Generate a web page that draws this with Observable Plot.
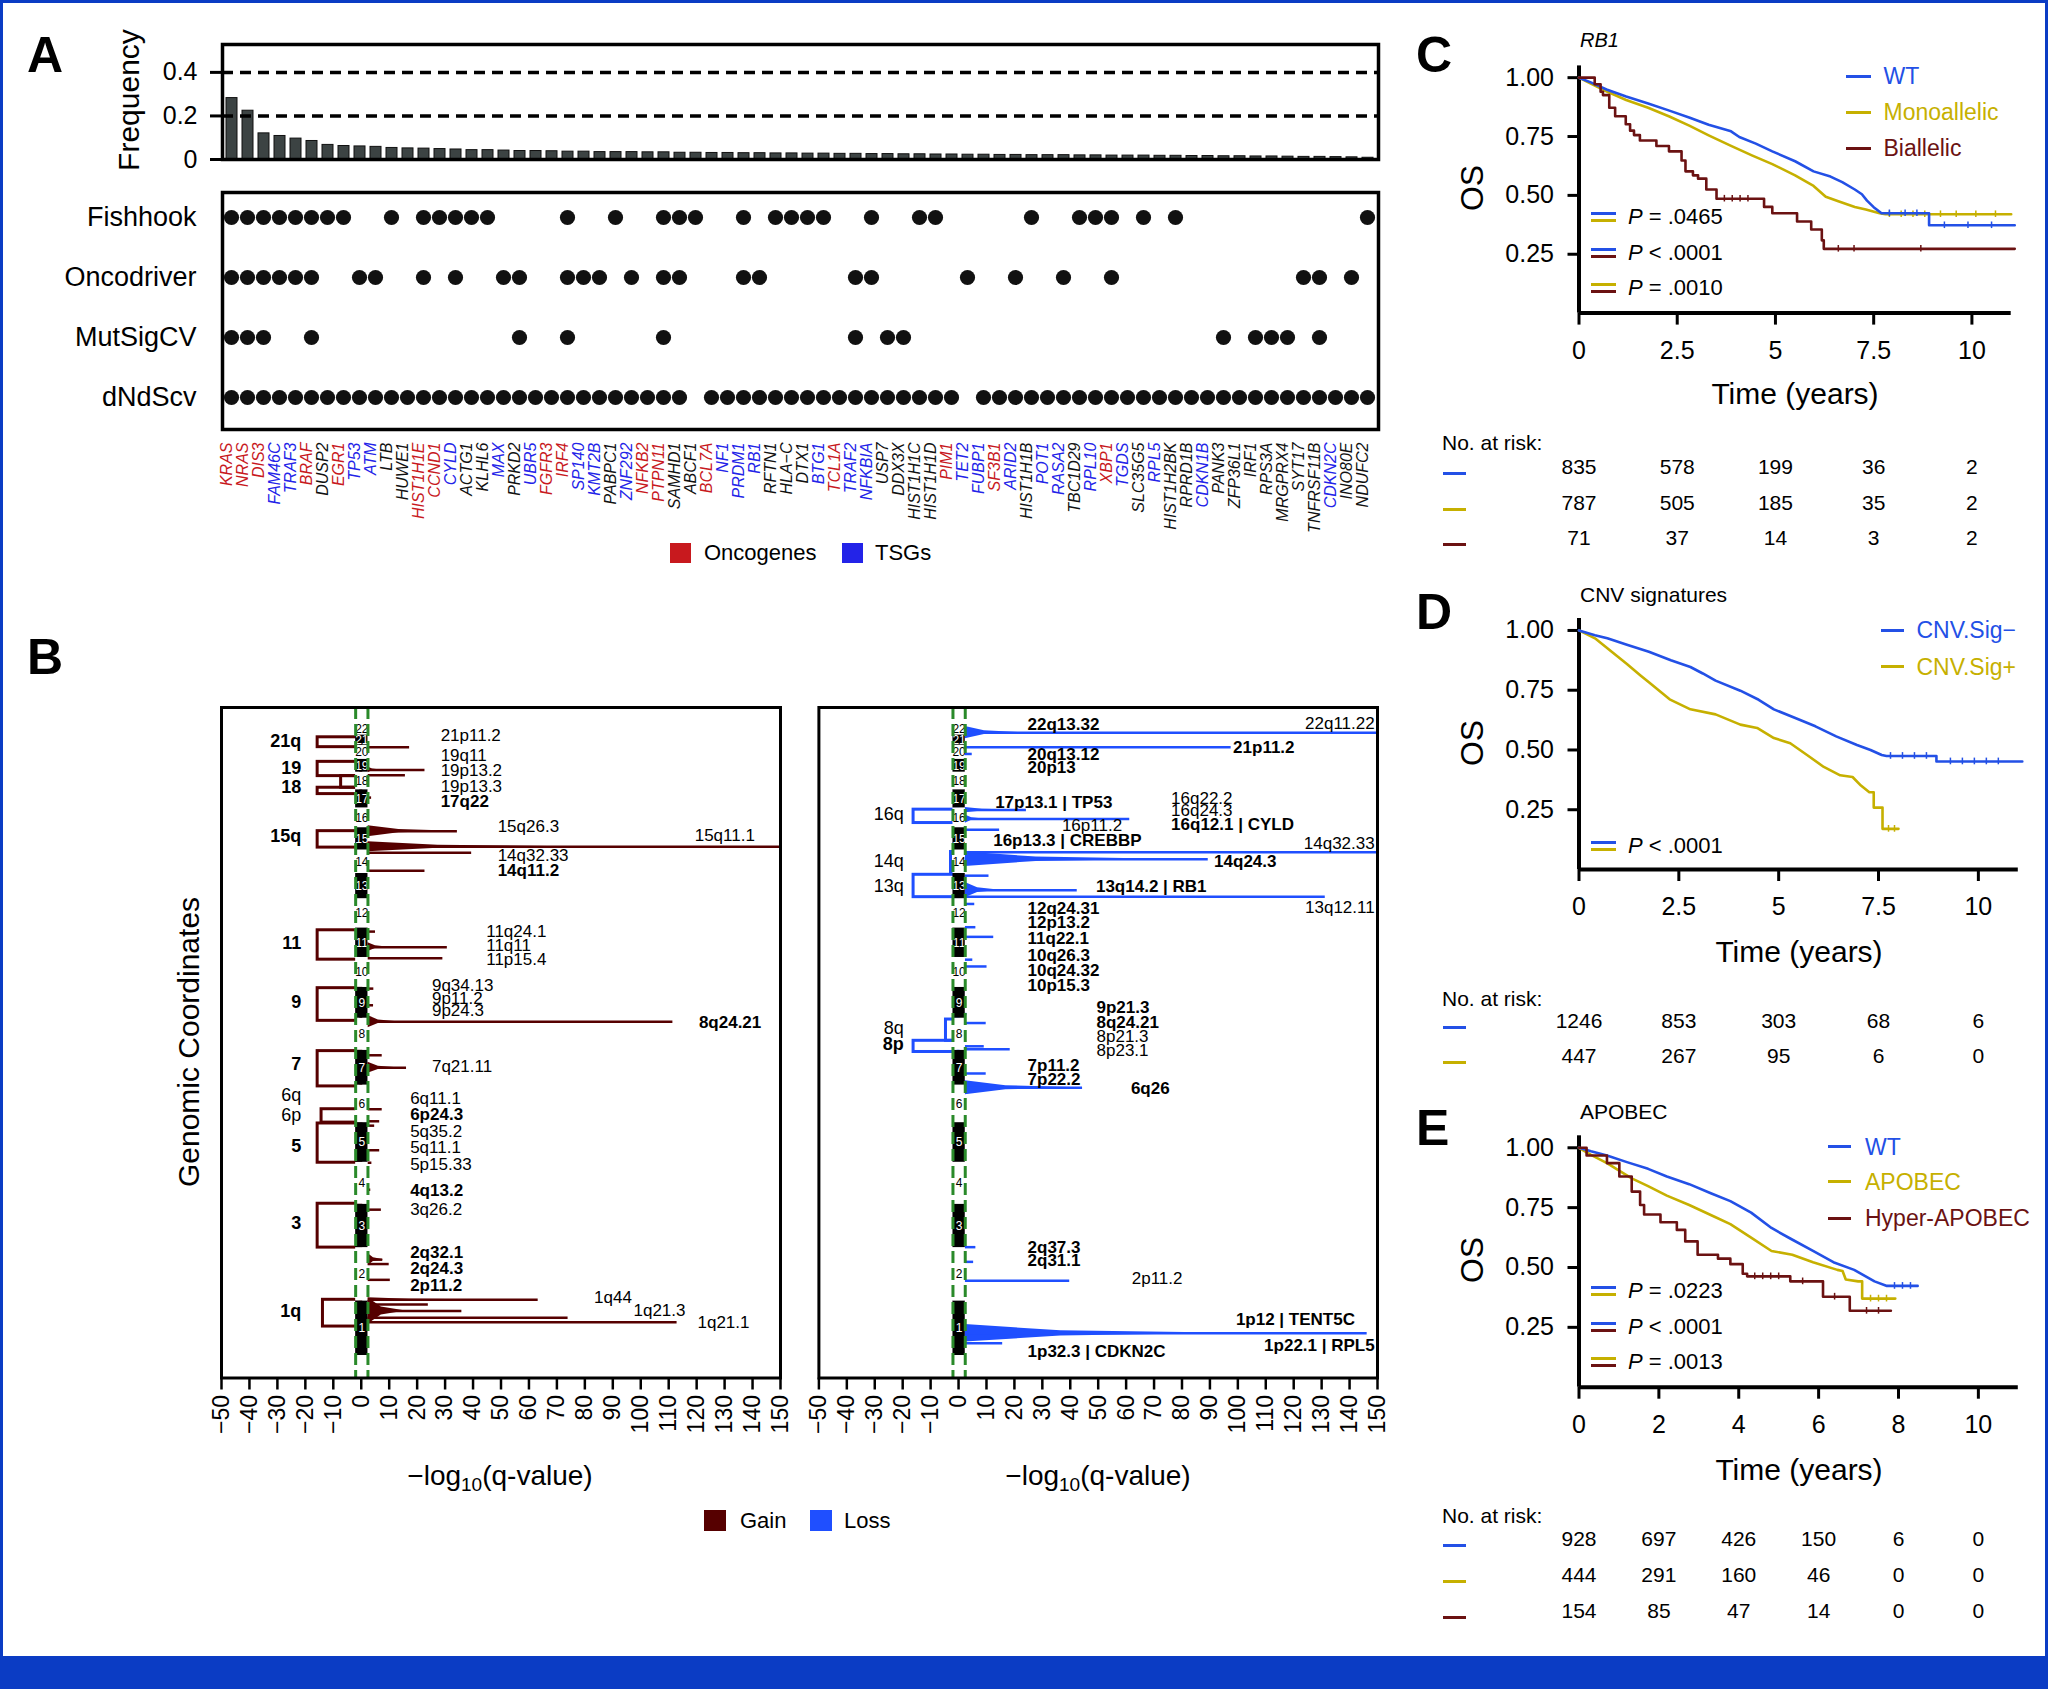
<!DOCTYPE html>
<html><head><meta charset="utf-8">
<script src="https://cdn.jsdelivr.net/npm/d3@7"></script>
<script src="https://cdn.jsdelivr.net/npm/@observablehq/plot@0.6"></script>
<style>
body{margin:0;background:#fff;}
#fig{position:relative;width:2048px;height:1689px;overflow:hidden;background:#fff;font-family:"Liberation Sans",Arial,Helvetica,sans-serif;color:#000;}
.t{position:absolute;white-space:nowrap;line-height:1;}
.b{position:absolute;}
sub{font-size:0.68em;vertical-align:-0.3em;line-height:0;}
</style></head><body><div id="fig"></div><script>
// ---------------- DATA ----------------
const genes = ["KRAS","NRAS","DIS3","FAM46C","TRAF3","BRAF","DUSP2","EGR1","TP53","ATM","LTB","HUWE1","HIST1H1E","CCND1","CYLD","ACTG1","KLHL6","MAX","PRKD2","UBR5","FGFR3","IRF4","SP140","KMT2B","PABPC1","ZNF292","NFKB2","PTPN11","SAMHD1","ABCF1","BCL7A","NF1","PRDM1","RB1","RFTN1","HLA−C","DTX1","BTG1","TCL1A","TRAF2","NFKBIA","USP7","DDX3X","HIST1H1C","HIST1H1D","PIM1","TET2","FUBP1","SF3B1","ARID2","HIST1H1B","POT1","RASA2","TBC1D29","RPL10","XBP1","TGDS","SLC35G5","RPL5","HIST1H2BK","RPRD1B","CDKN1B","PANK3","ZFP36L1","IRF1","RPS3A","MRGPRX4","SYT17","TNFRSF11B","CDKN2C","INO80E","NDUFC2"];
const frequency = [0.282,0.224,0.12,0.108,0.096,0.085,0.067,0.062,0.06,0.058,0.053,0.051,0.05,0.048,0.046,0.043,0.043,0.041,0.039,0.039,0.038,0.036,0.036,0.034,0.034,0.034,0.033,0.033,0.031,0.031,0.03,0.03,0.029,0.029,0.028,0.028,0.027,0.027,0.026,0.026,0.025,0.025,0.024,0.024,0.023,0.023,0.022,0.022,0.021,0.021,0.02,0.02,0.02,0.019,0.019,0.018,0.018,0.018,0.017,0.017,0.016,0.016,0.015,0.015,0.014,0.014,0.013,0.012,0.012,0.011,0.01,0.008];
const oncogenes = ["KRAS","NRAS","DIS3","BRAF","EGR1","HIST1H1E","CCND1","FGFR3","IRF4","NFKB2","PTPN11","BCL7A","TCL1A","PIM1","SF3B1","XBP1"];
const tsgs = ["FAM46C","TRAF3","TP53","ATM","CYLD","MAX","UBR5","SP140","KMT2B","ZNF292","NF1","PRDM1","RB1","BTG1","TRAF2","NFKBIA","TET2","FUBP1","ARID2","POT1","RASA2","RPL10","TGDS","RPL5","CDKN1B","CDKN2C"];
const methods = ["Fishhook","Oncodriver","MutSigCV","dNdScv"];
const fishhook = ["KRAS","NRAS","DIS3","FAM46C","TRAF3","BRAF","DUSP2","EGR1","LTB","HIST1H1E","CCND1","CYLD","ACTG1","KLHL6","IRF4","PABPC1","PTPN11","SAMHD1","ABCF1","PRDM1","RFTN1","HLA−C","DTX1","BTG1","NFKBIA","HIST1H1C","HIST1H1D","HIST1H1B","TBC1D29","RPL10","XBP1","SLC35G5","HIST1H2BK","NDUFC2"];
const oncodriver = ["KRAS","NRAS","DIS3","FAM46C","TRAF3","BRAF","TP53","ATM","HIST1H1E","CYLD","MAX","PRKD2","IRF4","SP140","KMT2B","ZNF292","PTPN11","SAMHD1","PRDM1","RB1","TRAF2","NFKBIA","TET2","ARID2","RASA2","XBP1","SYT17","TNFRSF11B","INO80E"];
const mutsigcv = ["KRAS","NRAS","DIS3","BRAF","PRKD2","IRF4","PTPN11","TRAF2","USP7","DDX3X","PANK3","IRF1","RPS3A","MRGPRX4","TNFRSF11B"];
const dndscvMissing = ["ABCF1","TET2"];
const freqTicks = [0, 0.2, 0.4];
const freqRefLines = [0.2, 0.4];

// Panel B
const chrNames = ["1","2","3","4","5","6","7","8","9","10","11","12","13","14","15","16","17","18","19","20","21","22"];
const chrLen = [249,243,198,191,181,171,159,146,141,136,135,133,115,107,102,90,83,80,59,64,47,51];
const bTicks = [-50,-40,-30,-20,-10,0,10,20,30,40,50,60,70,80,90,100,110,120,130,140,150];
// peaks: genome position (Mb), -log10 q, wedge tip value, wedge half width (Mb)
const gainPeaks = [
 {id:"21p11.2",g:2774,q:17.3,tip:0,w:0},{id:"19q11",g:2670,q:22.8,tip:7,w:13},{id:"19p13.2",g:2646,q:15.8,tip:0,w:0},
 {id:"17q22",g:2544,q:3.7,tip:0,w:0},{id:"15q26.3",g:2391,q:34.4,tip:34,w:25},{id:"15q11.1",g:2320,q:150,tip:74,w:23},
 {id:"14q32.33",g:2293,q:39.5,tip:0,w:0},{id:"14q11.2",g:2210,q:22.8,tip:0,w:0},{id:"11q24.1",g:1933,q:5.1,tip:0,w:0},
 {id:"11q11",g:1862,q:30.8,tip:10,w:20},{id:"11p15.4",g:1811,q:29.2,tip:0,w:0},{id:"9q34.13",g:1673,q:4.5,tip:0,w:0},
 {id:"9p11.2",g:1597,q:4.4,tip:0,w:0},{id:"8q24.21",g:1522,q:111.5,tip:13,w:28},{id:"7q36",g:1369,q:7.5,tip:0,w:0},
 {id:"7q21.11",g:1312,q:16.2,tip:13,w:25},{id:"6q11.1",g:1123,q:7.5,tip:0,w:0},{id:"6p24.3",g:1068,q:6.6,tip:0,w:0},
 {id:"5q35.2",g:1048,q:4.8,tip:0,w:0},{id:"5q11.1",g:936,q:6.6,tip:0,w:0},{id:"5p15.33",g:879,q:3.8,tip:0,w:0},
 {id:"4q13.2",g:756,q:3.4,tip:0,w:0},{id:"3q26.2",g:665,q:7.2,tip:0,w:0},{id:"2q32.1",g:437,q:7.7,tip:8,w:28},
 {id:"2q24.3",g:417,q:10,tip:0,w:0},{id:"2p11.2",g:345,q:10.4,tip:0,w:0},{id:"1q44",g:254,q:63.3,tip:45,w:9},
 {id:"1q32",g:232,q:24,tip:0,w:0},{id:"1q23",g:203,q:36,tip:16,w:60},{id:"1q21.3",g:172,q:74,tip:0,w:0},{id:"1q21.1",g:152,q:113,tip:0,w:0}
];
const lossPeaks = [
 {id:"22q11.22",g:2840,q:150,tip:22,w:28},{id:"21p11.2",g:2774,q:97.6,tip:0,w:0},{id:"20q13.12",g:2743,q:4.9,tip:0,w:0},
 {id:"17p13.1",g:2487,q:24.3,tip:20,w:12},{id:"16q12.1",g:2446,q:61.3,tip:9,w:19},{id:"16p13.3",g:2397,q:14.7,tip:0,w:0},
 {id:"14q32.33",g:2295,q:150,tip:0,w:0},{id:"14q24.3",g:2263,q:89.4,tip:75,w:33},{id:"13q34",g:2188,q:10.9,tip:0,w:0},
 {id:"13q14.2",g:2122,q:42.5,tip:15,w:35},{id:"13q12.11",g:2092,q:131.3,tip:0,w:0},{id:"12q24.31",g:2059,q:5.8,tip:0,w:0},
 {id:"11q23",g:1953,q:6.2,tip:0,w:0},{id:"11q22.1",g:1909,q:12.6,tip:0,w:0},{id:"10q26.3",g:1805,q:5.1,tip:0,w:0},
 {id:"10q24.32",g:1774,q:10.2,tip:0,w:0},{id:"9p21.3",g:1557,q:3,tip:0,w:0},{id:"8q24.21",g:1516,q:9.9,tip:0,w:0},
 {id:"8p21.3",g:1410,q:9.2,tip:0,w:0},{id:"8p23.1",g:1396,q:18.5,tip:9,w:6},{id:"7p11.2",g:1286,q:9.9,tip:0,w:0},
 {id:"6q26",g:1221,q:44.4,tip:44,w:32},{id:"2q37.3",g:494,q:6.2,tip:0,w:0},{id:"2q31.1",g:427,q:5.4,tip:0,w:0},
 {id:"2p11.2",g:341,q:39.8,tip:0,w:0},{id:"1p12",g:101,q:146.3,tip:100,w:40},{id:"1p32.3",g:56,q:15.8,tip:0,w:0}
];
const gainBrackets = [
 {arm:"21q",g1:2774,g2:2819,q:15.6},{arm:"19",g1:2642,g2:2707,q:15.6},{arm:"18p",g1:2589,g2:2642,q:7.2},
 {arm:"18",g1:2560,g2:2589,q:15.6},{arm:"15q",g1:2316,g2:2391,q:15.6},{arm:"11",g1:1805,g2:1939,q:15.6},
 {arm:"9",g1:1526,g2:1675,q:15.6},{arm:"7",g1:1227,g2:1388,q:15.6},{arm:"6p",g1:1062,g2:1123,q:14.2},
 {arm:"5",g1:879,g2:1058,q:15.6},{arm:"3",g1:492,g2:692,q:15.6},{arm:"1q",g1:132,g2:254,q:13.7}
];
const lossBrackets = [
 {arm:"16q",g1:2428,g2:2489,q:16.1},{arm:"14q",g1:2198,g2:2296,q:2.7},{arm:"13q",g1:2090,g2:2192,q:16.1},
 {arm:"8q",g1:1435,g2:1532,q:4.5},{arm:"8p",g1:1384,g2:1435,q:16.1}
];
// [label, x (-log10 q), genome position (Mb), bold]
const gainLabels = [
 ["21p11.2",28.4,2829,0],["19q11",28.4,2737,0],["19p13.2",28.4,2666,0],["19p13.3",28.4,2595,0],["17q22",28.4,2525,1],
 ["15q26.3",48.8,2411,0],["15q11.1",119.3,2371,0],["14q32.33",48.8,2279,0],["14q11.2",48.8,2212,1],
 ["11q24.1",44.7,1933,0],["11q11",44.7,1870,0],["11p15.4",44.7,1807,0],
 ["9q34.13",25.3,1685,0],["9p11.2",25.3,1628,0],["9p24.3",25.3,1571,0],["8q24.21",120.8,1516,1],
 ["7q21.11",25.3,1318,0],["6q11.1",17.5,1170,0],["6p24.3",17.5,1099,1],["5q35.2",17.5,1021,0],["5q11.1",17.5,946,0],
 ["5p15.33",17.5,869,0],["4q13.2",17.5,753,1],["3q26.2",17.5,667,0],["2q32.1",17.5,468,1],["2q24.3",17.5,396,1],
 ["2p11.2",17.5,321,1],["1q44",83.3,264,0],["1q21.3",97.4,203,0],["1q21.1",120.3,152,0]
];
const gainLabelsEnd = [];
const gainArms = [["21q",2802,1],["19",2680,1],["18",2591,1],["15q",2367,1],["11",1882,1],["9",1612,1],["7",1327,1],["6q",1188,0],["6p",1097,0],["5",952,1],["3",604,1],["1q",203,1]];
const lossLabels = [
 ["22q13.32",24.7,2876,1],["21p11.2",98.3,2774,1],["20q13.12",24.7,2741,1],["20p13",24.7,2682,1],
 ["17p13.1 | TP53",13.1,2523,1],["16q22.2",76.1,2538,0],["16q24.3",76.1,2483,0],["16q12.1 | CYLD",76.1,2422,1],
 ["16p11.2",37.0,2416,0],["16p13.3 | CREBBP",12.4,2350,1],["14q24.3",91.5,2253,1],["13q14.2 | RB1",49.2,2137,1],
 ["12q24.31",24.7,2039,1],["12p13.2",24.7,1972,1],["11q22.1",24.7,1903,1],["10q26.3",24.7,1825,1],
 ["10q24.32",24.7,1756,1],["10p15.3",24.7,1685,1],["9p21.3",49.4,1587,1],["8q24.21",49.4,1516,1],
 ["8p21.3",49.4,1455,0],["8p23.1",49.4,1390,0],["7p11.2",24.7,1322,1],["7p22.2",24.7,1257,1],["6q26",61.7,1217,1],
 ["2q37.3",24.7,494,1],["2q31.1",24.7,431,1],["2p11.2",62.0,350,0],["1p12 | TENT5C",99.3,166,1],["1p32.3 | CDKN2C",24.7,20,1]
];
const lossLabelsEnd = [["22q11.22",149,2882,0],["14q32.33",149,2336,0],["13q12.11",149,2041,0],["1p22.1 | RPL5",149,46,1]];
const lossArms = [["16q",2467,0],["14q",2253,0],["13q",2141,0],["8q",1492,0],["8p",1418,1]];

// Panels C-E (time in years, overall survival)
const osTicks = [0.25, 0.5, 0.75, 1];
const tTicksCD = [0, 2.5, 5, 7.5, 10];
const tTicksE = [0, 2, 4, 6, 8, 10];
const rbWT = [[0,1],[0.3,0.98],[0.7,0.95],[1.2,0.92],[1.76,0.89],[2.3,0.86],[2.82,0.83],[3.3,0.8],[3.87,0.772],[4.08,0.748],[4.5,0.72],[4.92,0.687],[5.5,0.645],[5.97,0.602],[6.4,0.58],[6.7,0.556],[7.02,0.525],[7.2,0.505],[7.33,0.478],[7.5,0.45],[7.7,0.424],[8.91,0.424],[8.91,0.373],[11.09,0.373]];
const rbMono = [[0,1],[0.3,0.975],[0.71,0.941],[1.2,0.905],[1.76,0.872],[2.3,0.835],[2.82,0.795],[3.3,0.755],[3.87,0.71],[4.4,0.67],[4.92,0.633],[5.5,0.585],[5.97,0.54],[6.28,0.494],[6.6,0.475],[7.02,0.451],[7.3,0.44],[7.65,0.424],[7.8,0.42],[11.0,0.42]];
const rbBi = [[0,1],[0.4,0.972],[0.55,0.94],[0.61,0.926],[0.77,0.872],[0.92,0.836],[1.19,0.802],[1.3,0.775],[1.4,0.756],[1.55,0.733],[1.97,0.71],[2.29,0.687],[2.61,0.648],[2.71,0.602],[2.9,0.585],[3.03,0.571],[3.24,0.525],[3.5,0.486],[4.71,0.451],[4.92,0.424],[5.55,0.389],[5.91,0.355],[6.18,0.309],[6.23,0.273],[11.09,0.273]];
const rbWTcens = [7.9,8.3,8.6,9.3,9.9,10.5];
const rbMonoCens = [7.9,8.2,8.5,8.8,9.2,9.6,10.1,10.6];
const rbBiCens = [3.7,3.9,4.1,4.3,6.6,7.0,8.7];
const rbRisk = [[835,578,199,36,2],[787,505,185,35,2],[71,37,14,3,2]];
const cnvNeg = [[0,1],[0.4,0.98],[0.71,0.967],[1.2,0.94],[1.75,0.911],[2.3,0.875],[2.79,0.847],[3.1,0.82],[3.42,0.79],[4.04,0.748],[4.5,0.71],[4.88,0.67],[5.4,0.635],[5.92,0.599],[6.44,0.557],[6.96,0.521],[7.3,0.5],[7.58,0.479],[7.7,0.475],[8.95,0.475],[8.95,0.452],[11.1,0.452]];
const cnvPos = [[0,1],[0.4,0.967],[0.92,0.897],[1.2,0.86],[1.54,0.812],[1.75,0.783],[2.27,0.712],[2.79,0.67],[3.42,0.649],[4.04,0.606],[4.46,0.592],[4.88,0.55],[5.29,0.528],[5.71,0.479],[6.13,0.429],[6.54,0.394],[6.85,0.387],[7.06,0.351],[7.27,0.323],[7.38,0.323],[7.38,0.259],[7.6,0.259],[7.6,0.17],[8.0,0.17]];
const cnvNegCens = [7.8,8.1,8.4,8.7,9.3,9.6,9.9,10.2,10.5];
const cnvPosCens = [7.75,7.9];
const cnvRisk = [[1246,853,303,68,6],[447,267,95,6,0]];
const apoWT = [[0,1],[0.3,0.985],[0.7,0.968],[1.2,0.94],[1.73,0.912],[2.2,0.88],[2.76,0.848],[3.3,0.81],[3.79,0.777],[4.31,0.729],[4.82,0.665],[5.3,0.62],[5.86,0.569],[6.37,0.522],[6.89,0.49],[7.4,0.442],[7.71,0.423],[8.48,0.423]];
const apoAPO = [[0,1],[0.3,0.97],[0.7,0.936],[1.32,0.872],[1.73,0.84],[2.2,0.8],[2.76,0.761],[3.38,0.713],[3.79,0.681],[4.31,0.625],[4.82,0.569],[5.34,0.553],[5.86,0.522],[6.47,0.49],[6.6,0.485],[6.68,0.45],[6.99,0.442],[7.09,0.442],[7.09,0.37],[7.92,0.37]];
const apoHyp = [[0,1],[0.19,0.968],[0.7,0.936],[1.01,0.88],[1.32,0.817],[1.53,0.761],[1.63,0.721],[2.04,0.689],[2.45,0.657],[2.66,0.609],[2.97,0.553],[3.48,0.537],[3.79,0.514],[4.1,0.474],[4.21,0.463],[5.29,0.442],[6.11,0.378],[6.78,0.319],[7.81,0.319]];
const apoWTcens = [7.9,8.1,8.3];
const apoAPOcens = [7.3,7.5,7.7];
const apoHypCens = [4.4,4.6,4.8,5.0,5.6,6.4,7.2,7.5];
const apoRisk = [[928,697,426,150,6,0],[444,291,160,46,0,0],[154,85,47,14,0,0]];

// ---------------- STYLE ----------------
const RED = "#c8191e", BLUE = "#2323e8";
const GAIN = "#560000", LOSS = "#1f4fff";
const KB = "#2350e6", KY = "#c6b000", KR = "#6b1212";
const FONT = "Liberation Sans, Arial, Helvetica, sans-serif";
const W = 2048, H = 1689;
const fig = document.getElementById("fig");

function plotAt(frame, opts) {
  const [l, t, r, b] = frame;
  const svg = Plot.plot({width: W, height: H, marginLeft: l, marginTop: t, marginRight: W - r, marginBottom: H - b,
    style: `position:absolute;left:0;top:0;background:transparent;overflow:visible;font-family:${FONT};`, ...opts});
  fig.appendChild(svg);
}
function T(html, x, y, o = {}) {
  const d = document.createElement("div");
  d.className = "t"; d.innerHTML = html;
  d.style.left = x + "px"; d.style.top = y + "px";
  d.style.fontSize = (o.size || 22) + "px";
  if (o.bold) d.style.fontWeight = "bold";
  if (o.italic) d.style.fontStyle = "italic";
  d.style.color = o.color || "#000";
  const ax = o.anchor === "middle" ? "-50%" : o.anchor === "end" ? "-100%" : "0";
  d.style.transform = `translate(${ax},-50%)` + (o.rotate ? ` rotate(${o.rotate}deg)` : "");
  fig.appendChild(d);
}
function R(x, y, w, h, color) {
  const d = document.createElement("div");
  d.className = "b";
  Object.assign(d.style, {left: x + "px", top: y + "px", width: w + "px", height: h + "px", background: color});
  fig.appendChild(d);
}
function L(x1, x2, y, color) { R(x1, y - 1.5, x2 - x1, 3, color); }

// ---------------- PANEL A ----------------
const typeColor = g => oncogenes.includes(g) ? RED : tsgs.includes(g) ? BLUE : "#111";
const geneData = genes.map((g, i) => ({gene: g, freq: frequency[i], color: typeColor(g)}));
const dots = [
  ...fishhook.map(g => ({gene: g, method: "Fishhook"})),
  ...oncodriver.map(g => ({gene: g, method: "Oncodriver"})),
  ...mutsigcv.map(g => ({gene: g, method: "MutSigCV"})),
  ...genes.filter(g => !dndscvMissing.includes(g)).map(g => ({gene: g, method: "dNdScv"}))
];
plotAt([222, 44, 1378, 159], {
  x: {type: "band", domain: genes, padding: 0.3, paddingOuter: 0.2, axis: null},
  y: {domain: [0, 0.528], axis: null},
  marks: [
    Plot.barY(geneData, {x: "gene", y: "freq", fill: "#3c4343", stroke: "#111", strokeWidth: 1}),
    Plot.ruleY(freqRefLines, {strokeDasharray: "11,7", strokeWidth: 3.5}),
    Plot.frame({strokeWidth: 3.5}),
    Plot.axisY(freqTicks, {tickSize: 12, tickPadding: 13, fontSize: 25, strokeWidth: 3, label: null, tickFormat: d => d === 0 ? "0" : String(d)})
  ]
});
plotAt([222, 192, 1378, 429], {
  x: {type: "point", domain: genes, range: [231, 1367], padding: 0, axis: null},
  y: {type: "point", domain: methods, range: [216, 398], padding: 0, axis: null},
  marks: [
    Plot.frame({strokeWidth: 3.5}),
    Plot.dot(dots, {x: "gene", y: "method", r: 7.6, fill: "#111"}),
    Plot.axisY(methods, {tickSize: 0, tickPadding: 26, fontSize: 27, label: null}),
    Plot.text(geneData, {x: "gene", frameAnchor: "bottom", dy: 13, rotate: -90, textAnchor: "end", text: "gene", fill: "color", fontStyle: "italic", fontSize: 16})
  ]
});
T("A", 27, 55, {size: 50, bold: true});
T("Frequency", 129, 100, {size: 30, rotate: -90, anchor: "middle"});
R(670, 543, 21, 20, RED); T("Oncogenes", 704, 553, {size: 22});
R(842, 543, 21, 20, BLUE); T("TSGs", 875, 553, {size: 22});

// ---------------- PANEL B ----------------
const starts = d3.cumsum([0, ...chrLen]);
const genomeTotal = starts[chrLen.length];
const ideo = chrNames.map((c, i) => ({chr: c, i, y1: starts[i], y2: starts[i + 1]}));
const idL = -2, idR = 2.4;
function wedges(peaks) {
  return peaks.filter(p => p.w > 0).flatMap(p => {
    const mid = idR + (p.tip - idR) * 0.35;
    return [{id: p.id, g: p.g - p.w, v: idR}, {id: p.id, g: p.g - p.w * 0.3, v: mid}, {id: p.id, g: p.g, v: p.tip},
            {id: p.id, g: p.g + p.w * 0.3, v: mid}, {id: p.id, g: p.g + p.w, v: idR}];
  });
}
function cnvPanel(frame, peaks, brackets, labels, labelsEnd, arms, armX, color) {
  const lab = (arr, bold, anchor) => Plot.text(arr.filter(d => !!d[3] === bold), {x: d => d[1], y: d => d[2], text: d => d[0], textAnchor: anchor, fontSize: 17, fontWeight: bold ? "bold" : "normal"});
  const arm = (bold) => Plot.text(arms.filter(d => !!d[2] === bold), {x: armX, y: d => d[1], text: d => d[0], textAnchor: "end", fontSize: 18, fontWeight: bold ? "bold" : "normal"});
  plotAt(frame, {
    x: {domain: [-50, 150], axis: null},
    y: {domain: [0, genomeTotal], range: [1355, 723.2], axis: null},
    marks: [
      Plot.rect(brackets, {x1: d => -d.q, x2: 0, y1: "g1", y2: "g2", stroke: color, strokeWidth: 3, fill: "none"}),
      Plot.areaX(wedges(peaks), {y: "g", x1: idR, x2: "v", z: "id", fill: color}),
      Plot.ruleY(peaks, {y: "g", x1: idR, x2: "q", stroke: color, strokeWidth: 2.5}),
      Plot.rect(ideo, {x1: idL, x2: idR, y1: "y1", y2: "y2", fill: d => d.i % 2 === 0 ? "#000" : "#fff"}),
      Plot.text(ideo, {x: (idL + idR) / 2, y: d => (d.y1 + d.y2) / 2, text: "chr", fontSize: 12, fill: d => d.i % 2 === 0 ? "#fff" : "#000"}),
      Plot.ruleX([idL, idR], {stroke: "#2a8a2a", strokeWidth: 3, strokeDasharray: "12,5"}),
      lab(labels, false, "start"), lab(labels, true, "start"),
      lab(labelsEnd, false, "end"), lab(labelsEnd, true, "end"),
      arm(false), arm(true),
      Plot.frame({strokeWidth: 3}),
      Plot.axisX(bTicks, {tickRotate: -90, tickSize: 12, tickPadding: 5, fontSize: 23, strokeWidth: 2.5, label: null})
    ]
  });
}
cnvPanel([221, 707, 780, 1377.5], gainPeaks, gainBrackets, gainLabels, gainLabelsEnd, gainArms, -21.5, GAIN);
cnvPanel([818.4, 707, 1377, 1377.5], lossPeaks, lossBrackets, lossLabels, lossLabelsEnd, lossArms, -19.6, LOSS);
T("B", 27, 657, {size: 50, bold: true});
T("Genomic Coordinates", 189, 1042, {size: 30, rotate: -90, anchor: "middle"});
T("−log<sub>10</sub>(q-value)", 500, 1476, {size: 28, anchor: "middle"});
T("−log<sub>10</sub>(q-value)", 1098, 1476, {size: 28, anchor: "middle"});
R(704, 1510, 22, 21, GAIN); T("Gain", 740, 1520.5, {size: 22});
R(810, 1510, 22, 21, LOSS); T("Loss", 844, 1520.5, {size: 22});

// ---------------- PANELS C-E ----------------
function sAt(pts, t, step) {
  let s = pts[0][1];
  for (let i = 0; i < pts.length; i++) {
    if (pts[i][0] <= t) {
      if (!step && i + 1 < pts.length && pts[i + 1][0] > t) {
        const [t0, s0] = pts[i], [t1, s1] = pts[i + 1];
        return s0 + (s1 - s0) * (t - t0) / (t1 - t0);
      }
      s = pts[i][1];
    }
  }
  return s;
}
function kmPanel(frame, xticks, curves, risk, riskDy) {
  const marks = [
    Plot.ruleX([0], {strokeWidth: 4}),
    Plot.ruleY([0], {strokeWidth: 4}),
    Plot.axisX(xticks, {tickSize: 12, tickPadding: 16, fontSize: 25, strokeWidth: 3, label: null, tickFormat: d => String(d)}),
    Plot.axisY(osTicks, {tickSize: 11, tickPadding: 14, fontSize: 25, strokeWidth: 3, label: null, tickFormat: d3.format(".2f")})
  ];
  curves.forEach(c => {
    marks.push(Plot.line(c.pts, {x: d => d[0], y: d => d[1], curve: c.step ? "step-after" : "linear", stroke: c.color, strokeWidth: 2.6}));
    marks.push(Plot.ruleX(c.cens.map(t => ({t, s: sAt(c.pts, t, c.step)})), {x: "t", y1: d => d.s - 0.014, y2: d => d.s + 0.014, stroke: c.color, strokeWidth: 1.5}));
  });
  risk.forEach((row, i) => marks.push(Plot.text(row.map((n, j) => ({t: xticks[j], n})), {x: "t", text: d => String(d.n), frameAnchor: "bottom", dy: riskDy[i], fontSize: 21})));
  plotAt(frame, {x: {domain: [0, 11], axis: null}, y: {domain: [0, 1.05], axis: null}, marks});
}
kmPanel([1578.5, 65.4, 2010.7, 312.6], tTicksCD, [
  {pts: rbMono, cens: rbMonoCens, color: KY, step: false},
  {pts: rbWT, cens: rbWTcens, color: KB, step: false},
  {pts: rbBi, cens: rbBiCens, color: KR, step: true}
], rbRisk, [161, 196.4, 231.9]);
kmPanel([1578.5, 618, 2017.8, 869], tTicksCD, [
  {pts: cnvPos, cens: cnvPosCens, color: KY, step: false},
  {pts: cnvNeg, cens: cnvNegCens, color: KB, step: false}
], cnvRisk, [158.5, 193.7]);
kmPanel([1578.5, 1135.3, 2017.8, 1386.7], tTicksE, [
  {pts: apoAPO, cens: apoAPOcens, color: KY, step: false},
  {pts: apoWT, cens: apoWTcens, color: KB, step: false},
  {pts: apoHyp, cens: apoHypCens, color: KR, step: true}
], apoRisk, [158.6, 194.9, 230.3]);

function pval(y, c1, c2, txt) { L(1591, 1616, y - 3.5, c1); L(1591, 1616, y + 3.5, c2); T(txt, 1628, y, {size: 22}); }
// C
T("C", 1416, 55, {size: 50, bold: true});
T("RB1", 1580, 40, {size: 20, italic: true});
[["WT", KB, 76.3], ["Monoallelic", KY, 112], ["Biallelic", KR, 148.3]].forEach(([s, c, y]) => { L(1846, 1871, y, c); T(s, 1883.5, y, {size: 23, color: c}); });
pval(217, KB, KY, "<i>P</i> = .0465"); pval(252.6, KB, KR, "<i>P</i> &lt; .0001"); pval(288, KY, KR, "<i>P</i> = .0010");
T("OS", 1472, 188, {size: 32, rotate: -90, anchor: "middle"});
T("Time (years)", 1795, 394, {size: 30, anchor: "middle"});
T("No. at risk:", 1442, 441.6, {size: 21});
[[KB, 473.6], [KY, 509], [KR, 544.5]].forEach(([c, y]) => L(1442.6, 1466, y, c));
// D
T("D", 1416, 612, {size: 50, bold: true});
T("CNV signatures", 1580, 594, {size: 21});
[["CNV.Sig−", KB, 630], ["CNV.Sig+", KY, 666.5]].forEach(([s, c, y]) => { L(1880.6, 1904, y, c); T(s, 1916.5, y, {size: 23, color: c}); });
pval(845.7, KB, KY, "<i>P</i> &lt; .0001");
T("OS", 1472, 743, {size: 32, rotate: -90, anchor: "middle"});
T("Time (years)", 1799, 952, {size: 30, anchor: "middle"});
T("No. at risk:", 1442, 998, {size: 21});
[[KB, 1027.5], [KY, 1062.7]].forEach(([c, y]) => L(1442.6, 1466, y, c));
// E
T("E", 1416, 1128, {size: 50, bold: true});
T("APOBEC", 1580, 1111, {size: 21});
[["WT", KB, 1146.5], ["APOBEC", KY, 1181.7], ["Hyper-APOBEC", KR, 1218]].forEach(([s, c, y]) => { L(1827.7, 1851, y, c); T(s, 1865, y, {size: 23, color: c}); });
pval(1290.5, KB, KY, "<i>P</i> = .0223"); pval(1326.8, KB, KR, "<i>P</i> &lt; .0001"); pval(1362, KY, KR, "<i>P</i> = .0013");
T("OS", 1472, 1260, {size: 32, rotate: -90, anchor: "middle"});
T("Time (years)", 1799, 1470, {size: 30, anchor: "middle"});
T("No. at risk:", 1442, 1515, {size: 21});
[[KB, 1545.3], [KY, 1581.6], [KR, 1617]].forEach(([c, y]) => L(1442.6, 1466, y, c));

// frame border
R(0, 0, W, 3, "#0b3cc4"); R(0, 0, 3, H, "#0b3cc4"); R(W - 3, 0, 3, H, "#0b3cc4"); R(0, 1656, W, 33, "#0b3cc4");
</script></body></html>
